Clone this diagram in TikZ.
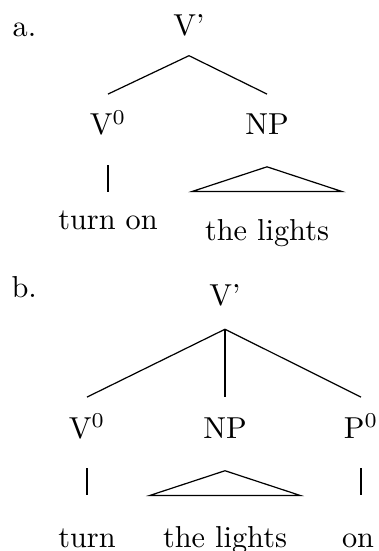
\documentclass[tikz,border=0pt]{standalone}
\usetikzlibrary{calc}
\tikzset{
  cat/.style={inner sep=0pt,outer xsep=0pt,outer ysep=6.5pt,text height=7pt,text depth=0pt,anchor=base},
  leaf/.style={inner sep=0pt,outer sep=0pt,text height=7pt,text depth=2pt,anchor=base},
  lab/.style={inner sep=0pt,anchor=base west},
  branch/.style={line width=0.4pt},
  stem/.style={branch,shorten <=3.5pt},
}
\begin{document}
\begin{tikzpicture}[x=0.33pt,y=-0.33pt]
\useasboundingbox (0,0) rectangle (379,551);
% a. particle kept with the verb
\node[lab] (la) at (12,37) {a.};
\node[cat] (vba) at (189,36) {V'};
\node[cat] (v0a) at (108,135) {V$^0$};
\node[cat] (npa) at (267,135) {NP};
\node[leaf] (turnon) at (108,230) {turn on};
\node[leaf] (lightsa) at (267,240) {the lights};
\foreach \u in {v0a,npa} \draw[branch] (vba.south) -- (\u.north);
\draw[stem,shorten >=5.5pt] (v0a.south) -- (turnon.north);
\draw[branch] ($(npa.south)+(0,-4pt)$) -- ($(lightsa.north west)+(-4.3pt,9pt)$)
  -- ($(lightsa.north east)+(4.3pt,9pt)$) -- cycle;
% b. particle shifted past the object
\node[lab] (lb) at (11,298) {b.};
\node[cat,outer ysep=8pt] (vbb) at (225,305) {V'};
\node[cat] (v0b) at (87,438) {V$^0$};
\node[cat] (npb) at (225,438) {NP};
\node[cat] (p0b) at (361,438) {P$^0$};
\node[leaf] (turn) at (87,547) {turn};
\node[leaf] (lightsb) at (225,547) {the lights};
\node[leaf] (on) at (358,547) {on};
\foreach \u in {v0b,npb,p0b} \draw[branch] (vbb.south) -- (\u.north);
\draw[stem,shorten >=10pt] (v0b.south) -- (turn.north);
\draw[stem,shorten >=10pt] (p0b.south) -- (p0b.south |- on.north);
\draw[branch] ($(npb.south)+(0,-4.3pt)$) -- ($(lightsb.north west)+(-4.4pt,10pt)$)
  -- ($(lightsb.north east)+(4.4pt,10pt)$) -- cycle;
\end{tikzpicture}
\end{document}
